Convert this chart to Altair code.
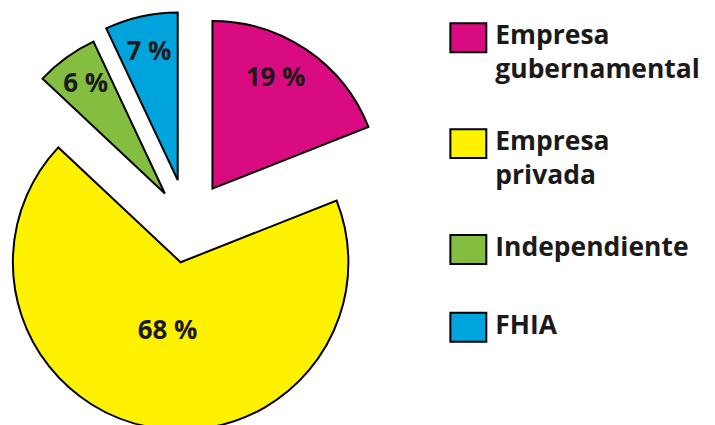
import altair as alt
import pandas as pd

# ---- data ----
categories = ["Empresa gubernamental", "Empresa privada", "Independiente", "FHIA"]
values = [19, 68, 6, 7]
labels = ["19 %", "68 %", "6 %", "7 %"]
colors = ["#D80C80", "#FFF200", "#84BE41", "#00A4DC"]

# ---- style ----
explode = [44, 38, 39, 46]          # pull-out distance of each slice (px)
label_r = [128, 70, 135, 132]        # label distance from slice tip (px)
label_turn = [-0.08, 0.0, 0.0, 0.0]  # small angular nudge of label (rad)
CX, CY, R = 179, 214, 168
FONT = "Open Sans"
rect_path = "M-1,-1.1667H1V0.4444H-1Z"

df = pd.DataFrame({
    "cat": categories,
    "value": values,
    "label": labels,
    "order": list(range(len(categories))),
    "explode": explode,
    "lr": label_r,
    "turn": label_turn,
})

base = (
    alt.Chart(df)
    .transform_joinaggregate(total="sum(value)")
    .transform_window(cum="sum(value)", sort=[alt.SortField("order")], frame=[None, 0])
    .transform_calculate(
        t1="datum.cum / datum.total * 2 * PI",
        t0="(datum.cum - datum.value) / datum.total * 2 * PI",
    )
    .transform_calculate(mid="(datum.t0 + datum.t1) / 2")
    .transform_calculate(
        cx=f"{CX} + datum.explode * sin(datum.mid)",
        cy=f"{CY} - datum.explode * cos(datum.mid)",
    )
    .transform_calculate(
        lx="datum.cx + datum.lr * sin(datum.mid + datum.turn)",
        ly="datum.cy - datum.lr * cos(datum.mid + datum.turn)",
    )
)

arcs = base.mark_arc(radius=R, stroke="black", strokeWidth=2, strokeJoin="miter").encode(
    theta=alt.Theta("t0:Q", scale=None),
    theta2="t1:Q",
    x=alt.X("cx:Q", scale=None, axis=None),
    y=alt.Y("cy:Q", scale=None, axis=None),
    color=alt.Color(
        "cat:N",
        scale=alt.Scale(domain=categories, range=colors),
        sort=categories,
        legend=alt.Legend(
            orient="none",
            legendX=441,
            legendY=14,
            title=None,
            symbolType=rect_path,
            symbolSize=1296,
            symbolStrokeColor="black",
            symbolStrokeWidth=2,
            symbolOpacity=1,
            labelFont=FONT,
            labelFontSize=26.5,
            labelFontWeight="bold",
            labelColor="#1a1a1a",
            labelOffset=8,
            labelLimit=0,
            labelBaseline="alphabetic",
            labelExpr="split(datum.label, ' ')",
            rowPadding=40,
        ),
    ),
)

texts = base.mark_text(font=FONT, fontSize=26, fontWeight="bold", color="#1a1a1a").encode(
    x=alt.X("lx:Q", scale=None, axis=None),
    y=alt.Y("ly:Q", scale=None, axis=None),
    text="label:N",
)

chart = (
    alt.layer(arcs, texts)
    .properties(width=699, height=409, padding=0)
    .configure(
        view=alt.ViewConfig(stroke=None),
        style={"guide-label": {"lineHeight": 34}},
    )
)

chart.save("out.html", embed_options={"renderer": "svg", "actions": False})
